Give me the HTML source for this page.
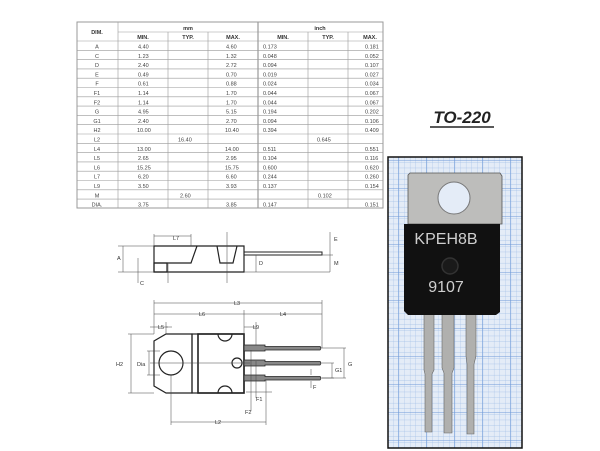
<!DOCTYPE html>
<html><head><meta charset="utf-8"><style>
html,body{margin:0;padding:0;background:#fff;width:600px;height:451px;overflow:hidden}
svg{display:block}
text{font-family:"Liberation Sans",sans-serif}
</style></head><body>
<svg width="600" height="451" viewBox="0 0 600 451" xmlns="http://www.w3.org/2000/svg">
<defs>
<pattern id="g" width="5.6" height="5.6" patternUnits="userSpaceOnUse" x="388" y="157">
<path d="M5.6 0V5.6H0" fill="none" stroke="#9fbde6" stroke-width="0.6"/>
</pattern>
<pattern id="G" width="28" height="28" patternUnits="userSpaceOnUse" x="398" y="160">
<path d="M0 0V28M0 0H28" fill="none" stroke="#6f9ad8" stroke-width="1.1"/>
</pattern>
</defs>
<!-- TABLE -->
<g stroke="#999" stroke-width="0.6" fill="none">
<rect x="77" y="22" width="306" height="186" stroke-width="1"/>
<line x1="118" y1="32" x2="383" y2="32"/>
<line x1="77" y1="41" x2="383" y2="41"/>
<line x1="118" y1="22" x2="118" y2="208"/>
<line x1="168" y1="32" x2="168" y2="208"/>
<line x1="208" y1="32" x2="208" y2="208"/>
<line x1="258" y1="22" x2="258" y2="208" stroke-width="1.2"/>
<line x1="308" y1="32" x2="308" y2="208"/>
<line x1="348" y1="32" x2="348" y2="208"/>
<path d="M77 50.3H383M77 59.6H383M77 68.9H383M77 78.2H383M77 87.5H383M77 96.8H383M77 106.1H383M77 115.4H383M77 124.7H383M77 134H383M77 143.3H383M77 152.6H383M77 161.9H383M77 171.2H383M77 180.5H383M77 189.8H383M77 199.1H383"/>
</g>
<g font-size="5.5" fill="#333" text-anchor="middle">
<text x="97" y="34" font-weight="bold">DIM.</text>
<text x="188" y="30" font-weight="bold">mm</text>
<text x="320" y="30" font-weight="bold">inch</text>
<text x="143" y="39" font-weight="bold">MIN.</text><text x="188" y="39" font-weight="bold">TYP.</text><text x="233" y="39" font-weight="bold">MAX.</text>
<text x="283" y="39" font-weight="bold">MIN.</text><text x="328" y="39" font-weight="bold">TYP.</text><text x="370" y="39" font-weight="bold">MAX.</text>
</g>
<g font-size="5.5" fill="#444">
<g text-anchor="middle">
<text x="97" y="48.5">A</text><text x="97" y="57.8">C</text><text x="97" y="67.1">D</text><text x="97" y="76.4">E</text><text x="97" y="85.7">F</text><text x="97" y="95">F1</text><text x="97" y="104.3">F2</text><text x="97" y="113.6">G</text><text x="97" y="122.9">G1</text><text x="97" y="132.2">H2</text><text x="97" y="141.5">L2</text><text x="97" y="150.8">L4</text><text x="97" y="160.1">L5</text><text x="97" y="169.4">L6</text><text x="97" y="178.7">L7</text><text x="97" y="188">L9</text><text x="97" y="197.3">M</text><text x="97" y="206.6">DIA.</text>
</g>
<g>
<text x="138" y="48.5">4.40</text><text x="138" y="57.8">1.23</text><text x="138" y="67.1">2.40</text><text x="138" y="76.4">0.49</text><text x="138" y="85.7">0.61</text><text x="138" y="95">1.14</text><text x="138" y="104.3">1.14</text><text x="138" y="113.6">4.95</text><text x="138" y="122.9">2.40</text><text x="137" y="132.2">10.00</text><text x="137" y="150.8">13.00</text><text x="138" y="160.1">2.65</text><text x="137" y="169.4">15.25</text><text x="138" y="178.7">6.20</text><text x="138" y="188">3.50</text><text x="138" y="206.6">3.75</text>
<text x="178" y="141.5">16.40</text><text x="180" y="197.3">2.60</text>
<text x="226" y="48.5">4.60</text><text x="226" y="57.8">1.32</text><text x="226" y="67.1">2.72</text><text x="226" y="76.4">0.70</text><text x="226" y="85.7">0.88</text><text x="226" y="95">1.70</text><text x="226" y="104.3">1.70</text><text x="226" y="113.6">5.15</text><text x="226" y="122.9">2.70</text><text x="225" y="132.2">10.40</text><text x="225" y="150.8">14.00</text><text x="226" y="160.1">2.95</text><text x="225" y="169.4">15.75</text><text x="226" y="178.7">6.60</text><text x="226" y="188">3.93</text><text x="226" y="206.6">3.85</text>
<text x="263" y="48.5">0.173</text><text x="263" y="57.8">0.048</text><text x="263" y="67.1">0.094</text><text x="263" y="76.4">0.019</text><text x="263" y="85.7">0.024</text><text x="263" y="95">0.044</text><text x="263" y="104.3">0.044</text><text x="263" y="113.6">0.194</text><text x="263" y="122.9">0.094</text><text x="263" y="132.2">0.394</text><text x="263" y="150.8">0.511</text><text x="263" y="160.1">0.104</text><text x="263" y="169.4">0.600</text><text x="263" y="178.7">0.244</text><text x="263" y="188">0.137</text><text x="263" y="206.6">0.147</text>
<text x="317" y="141.5">0.645</text><text x="318" y="197.3">0.102</text>
<text x="365" y="48.5">0.181</text><text x="365" y="57.8">0.052</text><text x="365" y="67.1">0.107</text><text x="365" y="76.4">0.027</text><text x="365" y="85.7">0.034</text><text x="365" y="95">0.067</text><text x="365" y="104.3">0.067</text><text x="365" y="113.6">0.202</text><text x="365" y="122.9">0.106</text><text x="365" y="132.2">0.409</text><text x="365" y="150.8">0.551</text><text x="365" y="160.1">0.116</text><text x="365" y="169.4">0.620</text><text x="365" y="178.7">0.260</text><text x="365" y="188">0.154</text><text x="365" y="206.6">0.151</text>
</g></g>

<!-- TO-220 title -->
<text x="462" y="123" font-size="17" font-weight="bold" font-style="italic" text-anchor="middle" fill="#222">TO-220</text>
<line x1="430" y1="127" x2="494" y2="127" stroke="#222" stroke-width="1.5"/>

<!-- PHOTO -->
<rect x="388" y="157" width="134" height="291" fill="#e4ecf7"/>
<rect x="388" y="157" width="134" height="291" fill="url(#g)"/>
<rect x="388" y="157" width="134" height="291" fill="url(#G)"/>
<rect x="388" y="157" width="134" height="291" fill="none" stroke="#111" stroke-width="1.5"/>
<path d="M408 175 L410 173 H500 L502 176 V224 H408 Z" fill="#bdbdbb" stroke="#555" stroke-width="0.8"/>
<circle cx="454" cy="198" r="16" fill="#e4ecf7" stroke="#777"/>
<path d="M424 300h10v70l-2 4v58h-7v-58l-1-4z" fill="#b0b0ae" stroke="#666" stroke-width="0.6"/>
<path d="M442 300h12v68l-2 5v60h-8v-60l-2-5z" fill="#b0b0ae" stroke="#666" stroke-width="0.6"/>
<path d="M466 300h10v56l-2 8v70h-7v-70l-1-8z" fill="#b0b0ae" stroke="#666" stroke-width="0.6"/>
<path d="M404 224 H500 V312 L496 315 H408 L404 311 Z" fill="#111"/>
<text x="446" y="244" font-size="16" fill="#cfcfcf" text-anchor="middle">KPEH8B</text>
<circle cx="450" cy="266" r="8" fill="#1a1a1a" stroke="#333" stroke-width="1.5"/>
<text x="446" y="292" font-size="16" fill="#cfcfcf" text-anchor="middle">9107</text>

<!-- SIDE VIEW -->
<g stroke="#222" fill="none" stroke-width="1.2">
<path d="M154 246 H244 V272 H154 Z"/>
<path d="M154 263 H191 L197 246"/>
<rect x="154" y="263" width="13" height="9"/>
<path d="M217 246 L220 263 H233 L237 246"/>
<rect x="244" y="252" width="78" height="3" stroke-width="1"/>
</g>
<g stroke="#444" fill="none" stroke-width="0.5">
<path d="M154 234V246M191 234V246M154 236H191"/>
<path d="M118 246H154M118 272H154M123 246V272"/>
<path d="M138 258V283M168 263V283"/>
<path d="M227 232V283"/>
<path d="M256 255V272M244 272H330M330 255V272M330 232V255M322 255H333"/>
</g>
<g font-size="5.5" fill="#333">
<text x="173" y="240">L7</text><text x="117" y="260">A</text><text x="140" y="285">C</text><text x="259" y="265">D</text><text x="334" y="241">E</text><text x="334" y="265">M</text>
</g>

<!-- FRONT VIEW -->
<g stroke="#222" fill="none" stroke-width="1.2">
<path d="M166 334 H192 V393 H166 L154 386 V341 Z"/>
<rect x="192" y="334" width="52" height="59"/>
<rect x="198" y="334" width="46" height="59" stroke-width="1.6"/>
<circle cx="171" cy="363" r="12"/>
<circle cx="237" cy="363" r="5"/>
<path d="M218 334 A7 7 0 0 0 232 334"/>
<path d="M218 393 A7 7 0 0 1 232 393"/>
</g>
<g fill="#888" stroke="#222" stroke-width="0.8">
<path d="M244 345 H265 V346.5 H320 Q322 348 320 350 H265 V351 H244 Z"/>
<path d="M244 360 H265 V361.5 H320 Q322 363 320 365 H265 V366 H244 Z"/>
<path d="M244 375 H265 V376.5 H320 Q322 378 320 380 H265 V381 H244 Z"/>
</g>
<g stroke="#444" fill="none" stroke-width="0.5">
<path d="M154 300V334M322 300V348M154 303H322"/>
<path d="M154 314H322M244 310V345"/>
<path d="M154 327H168M150 327H154M166 322V334M166 327H172"/>
<path d="M244 327H256M256 322V345"/>
<path d="M128 334H154M128 393H154M131 334V393"/>
<path d="M147 351H160M147 375H160M149 351V375"/>
<path d="M150 363H250"/>
<path d="M322 348H346M322 378H346M344 348V378"/>
<path d="M322 363H334M322 378H334M332 363V378"/>
<path d="M311 369V375M311 381V388"/>
<path d="M251 350V411M256 361V398M171 375V425M266 380V425M171 422H266"/>
<path d="M246 392H272"/>
</g>
<g font-size="5.5" fill="#333">
<text x="234" y="305">L3</text><text x="199" y="316">L6</text><text x="280" y="316">L4</text><text x="158" y="329">L5</text><text x="253" y="329">L9</text>
<text x="116" y="366">H2</text><text x="137" y="366">Dia</text>
<text x="348" y="366">G</text><text x="335" y="372">G1</text><text x="313" y="389">F</text>
<text x="256" y="401">F1</text><text x="245" y="414">F2</text><text x="215" y="424">L2</text>
</g>
</svg>
</body></html>
